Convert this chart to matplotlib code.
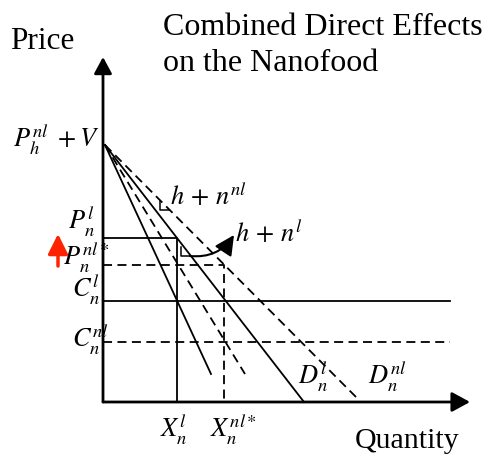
import numpy as np
import matplotlib.pyplot as plt

plt.rcParams['mathtext.fontset'] = 'stix'
plt.rcParams['font.family'] = ['Liberation Serif', 'DejaVu Serif']

# [diagram values] (quantity, price) in diagram units, origin at the axes corner
top = (2, 257)                    # P_h^nl + V intercept
mr_l_end = (108, 28)              # steep solid line
mr_nl_end = (142, 28)             # steep dashed line
d_l_end = (201, 0)                # D_n^l
d_nl_end = (254, 4)               # D_n^nl

p_l = 164
p_nl_star = 137
c_l = 101
c_nl = 60
x_l = 74
x_nl_star = 121
cost_end = 347

y_axis_top = 345
x_axis_end = 367

# right angle markers: (corner q, corner p, size)
marks = [(57, 192, 9), (78, 146, 9)]

fig = plt.figure(figsize=(4.86, 4.59), dpi=100)
ax = fig.add_axes([0, 0, 1, 1])
ax.set_xlim(-103, 383)
ax.set_ylim(-57, 402)
ax.axis('off')

lw = 1.3
dash = (0, (5, 3))

# axes with arrows
ax.annotate('', xy=(0, y_axis_top), xytext=(0, 0),
            arrowprops=dict(arrowstyle='-|>,head_length=0.5,head_width=0.27', mutation_scale=20,
                            lw=2.0, color='k', shrinkA=0, shrinkB=0))
ax.annotate('', xy=(x_axis_end, 0), xytext=(0, 0),
            arrowprops=dict(arrowstyle='-|>,head_length=0.55,head_width=0.3', mutation_scale=20,
                            lw=2.0, color='k', shrinkA=0, shrinkB=0))

# demand / marginal lines
ax.plot([top[0], mr_l_end[0]], [top[1], mr_l_end[1]], color='k', lw=lw)
ax.plot([top[0], mr_nl_end[0]], [top[1], mr_nl_end[1]], color='k', lw=lw, linestyle=dash)
ax.plot([top[0], d_l_end[0]], [top[1], d_l_end[1]], color='k', lw=lw)
ax.plot([top[0], d_nl_end[0]], [top[1], d_nl_end[1]], color='k', lw=lw, linestyle=dash)

# price / cost levels
ax.plot([0, x_l, x_l], [p_l, p_l, 0], color='k', lw=lw)
ax.plot([0, x_nl_star, x_nl_star], [p_nl_star, p_nl_star, 0], color='k', lw=lw, linestyle=dash)
ax.plot([0, cost_end], [c_l, c_l], color='k', lw=lw)
ax.plot([0, cost_end], [c_nl, c_nl], color='k', lw=lw, linestyle=dash)

# right angle marks
for q, p, s in marks:
    ax.plot([q, q, q + s], [p + s, p, p], color='k', lw=1.1)

# curved arrow to h + n^l
ax.annotate('', xy=(131, 167), xytext=(87, 146),
            arrowprops=dict(arrowstyle='-|>,head_length=0.6,head_width=0.3', mutation_scale=20,
                            lw=1.5, color='k', shrinkA=0, shrinkB=0,
                            connectionstyle='arc3,rad=0.3'))

# red arrow next to P_n^nl*
ax.annotate('', xy=(-45, 168), xytext=(-45, 136),
            arrowprops=dict(arrowstyle='-|>,head_length=0.6,head_width=0.3', mutation_scale=20,
                            lw=2.5, color='#ff2200', shrinkA=0, shrinkB=0))

# texts
ax.text(-93, 353, 'Price', fontsize=22.5, ha='left', va='baseline')
ax.text(60, 367, 'Combined Direct Effects', fontsize=23, ha='left', va='baseline')
ax.text(60, 331, 'on the Nanofood', fontsize=23, ha='left', va='baseline')
ax.text(252, -46, 'Quantity', fontsize=21.5, ha='left', va='baseline')

ms = 19
ax.text(-3, 254, r'$P_h^{nl}\ +V$', fontsize=ms, ha='right', va='baseline')
ax.text(-35, 172, r'$P_n^{l}$', fontsize=ms, ha='left', va='baseline')
ax.text(-40, 136, r'$P_n^{nl*}$', fontsize=ms, ha='left', va='baseline')
ax.text(-31, 104, r'$C_n^{l}$', fontsize=ms, ha='left', va='baseline')
ax.text(-31, 54, r'$C_n^{nl}$', fontsize=ms, ha='left', va='baseline')
ax.text(57, -36, r'$X_n^{l}$', fontsize=ms, ha='left', va='baseline')
ax.text(107, -36, r'$X_n^{nl*}$', fontsize=ms, ha='left', va='baseline')
ax.text(195, 17, r'$D_n^{l}$', fontsize=ms, ha='left', va='baseline')
ax.text(265, 17, r'$D_n^{nl}$', fontsize=ms, ha='left', va='baseline')
ax.text(67, 197, r'$h\,+\,n^{nl}$', fontsize=ms, ha='left', va='baseline')
ax.text(132, 160, r'$h\,+\,n^{l}$', fontsize=ms, ha='left', va='baseline')

fig.savefig('out.png', dpi=100)
